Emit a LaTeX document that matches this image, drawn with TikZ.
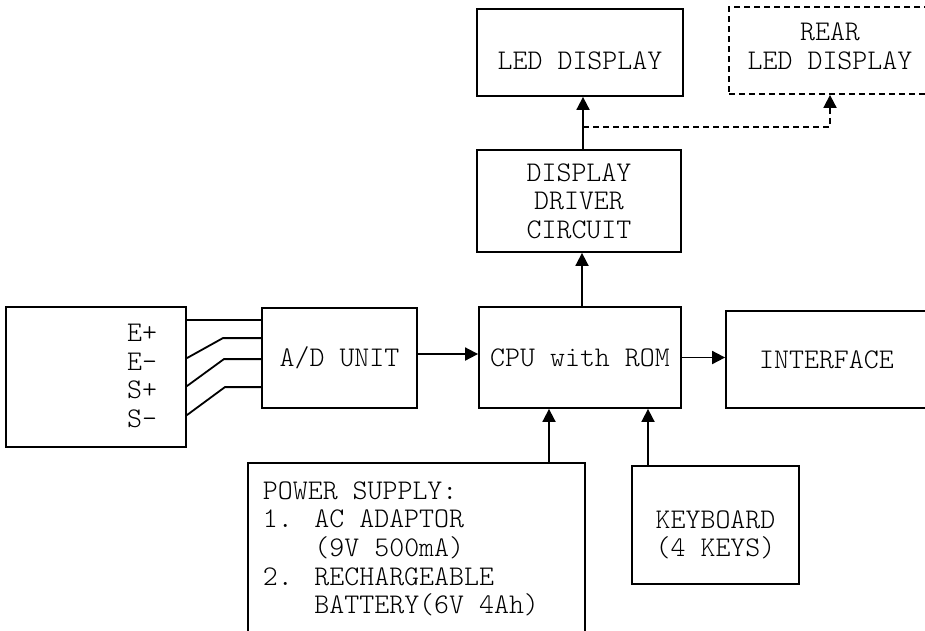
\documentclass[tikz,border=0pt]{standalone}
\usepackage{fontspec}
\setmonofont{Latin Modern Mono Light}
\usetikzlibrary{arrows.meta}

\begin{document}
\begin{tikzpicture}[x=1pt, y=-1pt,
  every node/.style={font=\ttfamily\fontsize{28.5}{28.6}\selectfont},
  blk/.style={draw, line width=1.8pt, inner sep=0pt, align=center},
  arr/.style={-{Triangle[length=13pt,width=13pt]}, line width=1.8pt},
  wire/.style={line width=1.8pt},
  dashline/.style={dash pattern=on 6pt off 4pt}
]
\useasboundingbox (0,0) rectangle (925,630);
\clip (0,0) rectangle (925,630);

\node[blk, minimum width=180pt, minimum height=140pt] (sensor) at (96,377) {};
\node[align=left, anchor=west, inner sep=0pt] (pins) at (127,376) {E+\\E-\\S+\\S-};
\node[blk, minimum width=155pt, minimum height=100pt] (adc) at (339.5,358) {A/D UNIT};
\node[blk, minimum width=202pt, minimum height=101pt] (cpu) at (580,357.5) {CPU with ROM};
\node[blk, minimum width=201pt, minimum height=97pt] (iface) at (826.5,359.5) {INTERFACE};
\node[blk, minimum width=204pt, minimum height=102pt] (driver) at (579,201) {DISPLAY\\DRIVER\\CIRCUIT};
\node[blk, minimum width=206pt, minimum height=87pt, text height=34.6pt, text depth=0pt] (led) at (580,52.5) {LED DISPLAY};
\node[blk, dashline, minimum width=202pt, minimum height=87pt,
  label={[align=center, yshift=4pt]center:REAR\\LED DISPLAY}] (rear) at (830,50.5) {};
\node[blk, anchor=north west, minimum width=337pt, minimum height=172pt, text width=307pt, align=flush left] (power) at (247,462)
  {POWER SUPPLY:\\1.\hspace{0.76em}AC ADAPTOR\\\hspace{1.81em}(9V 500mA)\\2.\hspace{0.76em}RECHARGEABLE\\\hspace{1.81em}BATTERY(6V 4Ah)};
\node[blk, minimum width=167pt, minimum height=118pt,
  label={[align=center, yshift=-10pt]center:KEYBOARD\\(4 KEYS)}] (keys) at (715.5,525) {};

% sensor leads
\draw[wire] ([yshift=-14pt]sensor.north east) -- ([yshift=-13pt]adc.north west);
\draw[wire] ([yshift=-52pt]sensor.north east) -- ++(36,-20) -- ([yshift=-31pt]adc.north west);
\draw[wire] ([yshift=-80pt]sensor.north east) -- ++(37,-27) -- ([yshift=-52pt]adc.north west);
\draw[wire] ([yshift=-109pt]sensor.north east) -- ++(38,-28) -- ([yshift=-80pt]adc.north west);

\draw[arr] ([yshift=4pt]adc.east) -- ([yshift=4pt]adc.east -| cpu.west);
\draw[arr] (cpu.east) -- (cpu.east -| iface.west);
\draw[arr] ([xshift=2pt]cpu.north) -- ([xshift=2pt]cpu.north |- driver.south);
\draw[arr] ([xshift=4pt]driver.north) -- ([xshift=4pt]driver.north |- led.south);
\draw[arr, dashline] ([xshift=4pt,yshift=22pt]driver.north) -| (rear.south);
\draw[arr] ([xshift=-31pt]cpu.south |- power.north) -- ([xshift=-31pt]cpu.south);
\draw[arr] ([xshift=68pt]cpu.south |- keys.north) -- ([xshift=68pt]cpu.south);
\end{tikzpicture}
\end{document}
